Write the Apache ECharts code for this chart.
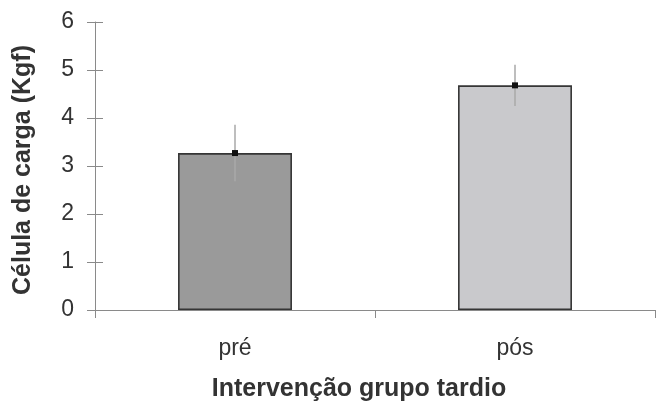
<!DOCTYPE html>
<html>
<head>
<meta charset="utf-8">
<script src="https://cdn.jsdelivr.net/npm/echarts@6/dist/echarts.min.js"></script>
<style>
  html, body { margin: 0; padding: 0; background: #ffffff; }
  #chart { width: 656px; height: 404px; }
</style>
</head>
<body>
<div id="chart"></div>
<script>
// Load-cell force before and after the late-group intervention
var categories = ['pré', 'pós'];
var means = [3.27, 4.68];
var errors = [0.59, 0.43];
var yTicks = [0, 1, 2, 3, 4, 5, 6];
var barColors = ['#9a9a9a', '#c9c9cc'];

var FONT = '"Liberation Sans", Arial, sans-serif';

var chart = echarts.init(document.getElementById('chart'));

var errorData = categories.map(function (c, i) {
  return [i, means[i], means[i] - errors[i], means[i] + errors[i]];
});

chart.setOption({
  animation: false,
  backgroundColor: '#ffffff',
  grid: { left: 95, right: 1, top: 22, bottom: 94 },
  xAxis: {
    type: 'category',
    data: categories,
    boundaryGap: true,
    axisLine: { lineStyle: { color: '#8a8a8a', width: 1 } },
    axisTick: { show: true, length: 8, inside: false, lineStyle: { color: '#8a8a8a' } },
    axisLabel: { color: '#333333', fontSize: 23, fontFamily: FONT, margin: 27 }
  },
  yAxis: [{
    type: 'value',
    min: yTicks[0],
    max: yTicks[yTicks.length - 1],
    interval: 1,
    splitLine: { show: false },
    axisLine: { show: true, lineStyle: { color: '#8a8a8a', width: 1 } },
    axisTick: { show: true, length: 8, lineStyle: { color: '#8a8a8a' } },
    axisLabel: { color: '#333333', fontSize: 23, fontFamily: FONT, margin: 21 }
  }, {
    // mirror of the left axis so the ticks cross the line
    type: 'value',
    position: 'left',
    min: yTicks[0],
    max: yTicks[yTicks.length - 1],
    interval: 1,
    splitLine: { show: false },
    axisLine: { show: false },
    axisTick: { show: true, inside: true, length: 8, lineStyle: { color: '#8a8a8a' } },
    axisLabel: { show: false }
  }],
  graphic: [{
    type: 'text',
    x: 23,
    y: 170,
    rotation: Math.PI / 2,
    style: {
      text: 'Célula de carga (Kgf)',
      fill: '#333333',
      font: 'bold 25px ' + FONT,
      textAlign: 'center',
      textVerticalAlign: 'middle'
    }
  }, {
    type: 'text',
    x: 359,
    y: 389,
    style: {
      text: 'Intervenção grupo tardio',
      fill: '#333333',
      font: 'bold 25px ' + FONT,
      textAlign: 'center',
      textVerticalAlign: 'middle'
    }
  }],
  series: [{
    type: 'bar',
    data: means.map(function (v, i) {
      return { value: v, itemStyle: { color: barColors[i] } };
    }),
    barWidth: '40.7%',
    itemStyle: { borderColor: '#353535', borderWidth: 1.6 }
  }, {
    type: 'custom',
    data: errorData,
    renderItem: function (params, api) {
      var x = api.value(0);
      var mid = api.coord([x, api.value(1)]);
      var lo = api.coord([x, api.value(2)]);
      var hi = api.coord([x, api.value(3)]);
      return {
        type: 'group',
        children: [{
          type: 'line',
          shape: { x1: hi[0], y1: hi[1], x2: lo[0], y2: lo[1] },
          style: { stroke: '#a8a8a8', lineWidth: 1.5 }
        }, {
          type: 'rect',
          shape: { x: mid[0] - 3, y: mid[1] - 3, width: 6, height: 6 },
          style: { fill: '#111111' }
        }]
      };
    },
    z: 5
  }]
});
</script>
</body>
</html>
